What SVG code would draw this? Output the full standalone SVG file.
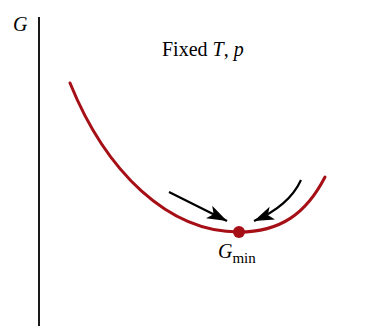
<svg xmlns="http://www.w3.org/2000/svg" width="380" height="326" viewBox="0 0 380 326">
<style>
.t{font-family:"Liberation Serif","Times New Roman",serif;fill:#000}
.i{font-style:italic}
.curve{fill:none;stroke:#a50f15;stroke-width:3;stroke-linecap:round}
.arr{fill:none;stroke:#000;stroke-width:2.2}
</style>
<defs>
<marker id="ah" markerWidth="20" markerHeight="14" refX="20" refY="7" orient="auto" markerUnits="userSpaceOnUse">
<path d="M0,0 L20,7 L0,14 L5,7 Z" fill="#000"/>
</marker>
</defs>
<rect width="380" height="326" fill="#fff"/>
<g id="axis">
<line x1="39" y1="17" x2="39" y2="326" stroke="#000" stroke-width="1.8"/>
<text class="t i" x="13" y="31" font-size="20">G</text>
</g>
<g id="title">
<text class="t" x="162" y="56" font-size="20">Fixed <tspan class="i">T</tspan>, <tspan class="i">p</tspan></text>
</g>
<g id="curve">
<path class="curve" d="M70,83 C106,172 168,232 239,232 C280,232 306,214 325,177"/>
</g>
<g id="connectors">
<path class="arr" d="M169,192 Q199,207 227,221" marker-end="url(#ah)"/>
<path class="arr" d="M301,180 Q289,206 254,221" marker-end="url(#ah)"/>
</g>
<g id="gmin">
<circle cx="239" cy="232" r="6" fill="#a50f15"/>
<text class="t" x="218" y="258" font-size="20"><tspan class="i">G</tspan><tspan font-size="15" dy="5">min</tspan></text>
</g>
</svg>
